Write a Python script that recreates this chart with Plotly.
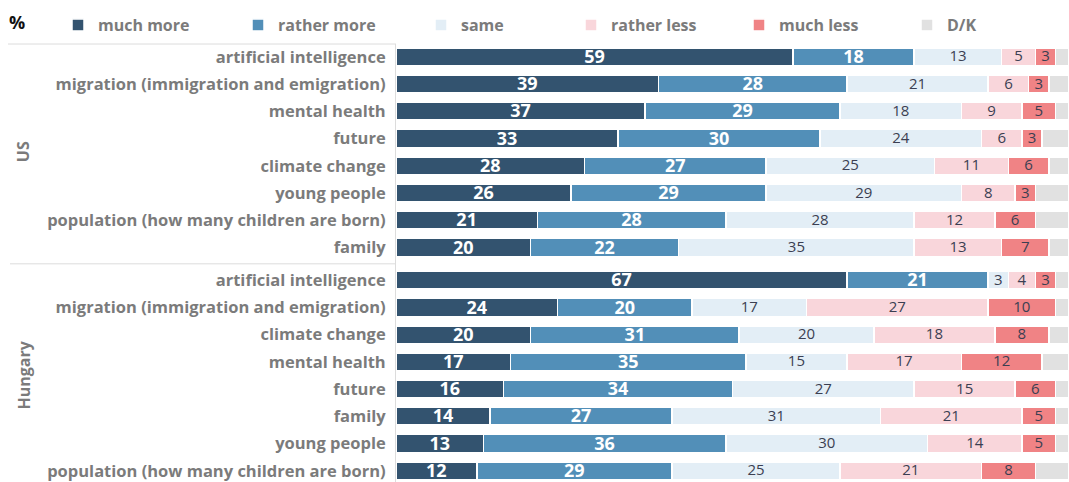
import plotly.graph_objects as go

# Topics per country (top to bottom)
us_topics = ["artificial intelligence", "migration (immigration and emigration)", "mental health",
             "future", "climate change", "young people",
             "population (how many children are born)", "family"]
hu_topics = ["artificial intelligence", "migration (immigration and emigration)", "climate change",
             "mental health", "future", "family", "young people",
             "population (how many children are born)"]

answers = ["much more", "rather more", "same", "rather less", "much less", "D/K"]

us_much_more = [59, 39, 37, 33, 28, 26, 21, 20]
us_rather_more = [18, 28, 29, 30, 27, 29, 28, 22]
us_same = [13, 21, 18, 24, 25, 29, 28, 35]
us_rather_less = [5, 6, 9, 6, 11, 8, 12, 13]
us_much_less = [3, 3, 5, 3, 6, 3, 6, 7]

hu_much_more = [67, 24, 20, 17, 16, 14, 13, 12]
hu_rather_more = [21, 20, 31, 35, 34, 27, 36, 29]
hu_same = [3, 17, 20, 15, 27, 31, 30, 25]
hu_rather_less = [4, 27, 18, 17, 15, 21, 14, 21]
hu_much_less = [3, 10, 8, 12, 6, 5, 5, 8]

colors = ["#33536f", "#528fb8", "#e3eef6", "#f9d6db", "#f08385", "#e1e1e1"]
text_colors = ["white", "white", "#3b3f52", "#3b3f52", "#3b3f52"]

FONT = "Open Sans"
GRAY = "#7b7b7b"

W, H = 1069, 482
ML, MT = 396, 44
PLOT_W = W - ML
PLOT_H = H - MT

# Row positions: US rows 0..7, Hungary rows after a small gap
us_y = [i for i in range(len(us_topics))]
hu_y = [8.2 + i for i in range(len(hu_topics))]
ys = us_y + hu_y
labels = us_topics + hu_topics

series = [
    us_much_more + hu_much_more,
    us_rather_more + hu_rather_more,
    us_same + hu_same,
    us_rather_less + hu_rather_less,
    us_much_less + hu_much_less,
]
# "don't know" fills each row up to 100 %
series.append([100 - sum(vals) for vals in zip(*series)])

legend_ids = ["legend", "legend2", "legend3", "legend4", "legend5", "legend6"]
legend_x_px = [58, 238, 421, 571, 739, 907]

fig = go.Figure()
for k, name in enumerate(answers):
    fig.add_trace(go.Bar(
        name=name, orientation="h", x=series[k], y=ys,
        width=0.65, legend=legend_ids[k],
        marker=dict(color=colors[k], line=dict(color="white", width=1.5)),
        hoverinfo="skip",
    ))

# Value labels centred in each segment (D/K stays unlabelled);
# a small downward nudge balances the glyphs optically inside the bar
starts = [0.0] * len(ys)
for k in range(5):
    vals = series[k]
    mids = [s + v / 2 for s, v in zip(starts, vals)]
    bold = k < 2
    nudge = 0.06 if bold else 0.03
    fig.add_trace(go.Scatter(
        x=mids, y=[y + nudge for y in ys], mode="text", text=[str(v) for v in vals],
        textposition="middle center", showlegend=False, hoverinfo="skip",
        textfont=dict(family=FONT, size=18 if bold else 15,
                      color=text_colors[k], weight="bold" if bold else "normal"),
        cliponaxis=False,
    ))
    starts = [s + v for s, v in zip(starts, vals)]

legend_font = dict(family=FONT, size=16, color=GRAY, weight="bold")
legends = {}
for lid, xpx in zip(legend_ids, legend_x_px):
    legends[lid] = dict(
        orientation="h", xref="container", yref="container",
        x=xpx / W, xanchor="left", y=1 - 25 / H, yanchor="middle",
        font=legend_font, itemclick=False, itemdoubleclick=False,
        bgcolor="rgba(0,0,0,0)",
    )

fig.update_layout(
    barmode="stack",
    width=W, height=H,
    margin=dict(l=ML, r=0, t=MT, b=0, autoexpand=False),
    plot_bgcolor="white", paper_bgcolor="white",
    font=dict(family=FONT, color=GRAY),
    showlegend=True,
    xaxis=dict(range=[0, 100], visible=False, fixedrange=True),
    yaxis=dict(
        range=[15.61, -0.47], tickvals=ys, ticktext=labels,
        showgrid=False, zeroline=False,
        showline=True, linecolor="#dcdcdc", linewidth=1,
        ticks="outside", ticklen=6, tickcolor="rgba(0,0,0,0)",
        tickfont=dict(family=FONT, size=16.5, color=GRAY, weight="bold"),
        fixedrange=True,
    ),
    **legends,
)

# Rules: top border and separator between country groups
fig.add_shape(type="line", xref="paper", yref="paper",
              x0=-388 / PLOT_W, x1=0, y0=1, y1=1,
              line=dict(color="#dcdcdc", width=1))
fig.add_shape(type="line", xref="paper", yref="y",
              x0=-386 / PLOT_W, x1=0, y0=7.6, y1=7.6,
              line=dict(color="#dcdcdc", width=1))

# Country group labels
for text, yc in [("US", 3.5), ("Hungary", 8.2 + 3.5)]:
    fig.add_annotation(text=text, xref="paper", yref="y",
                       x=-(ML - 23) / PLOT_W, xanchor="center", y=yc, yanchor="middle",
                       textangle=-90, showarrow=False,
                       font=dict(family=FONT, size=16, color=GRAY, weight="bold"))

fig.add_annotation(text="%", xref="paper", yref="paper",
                   x=-(ML - 7) / PLOT_W, xanchor="left", y=1 + 22 / PLOT_H, yanchor="middle",
                   showarrow=False,
                   font=dict(family=FONT, size=18, color="#111111", weight="bold"))

fig.write_html("out.html")
